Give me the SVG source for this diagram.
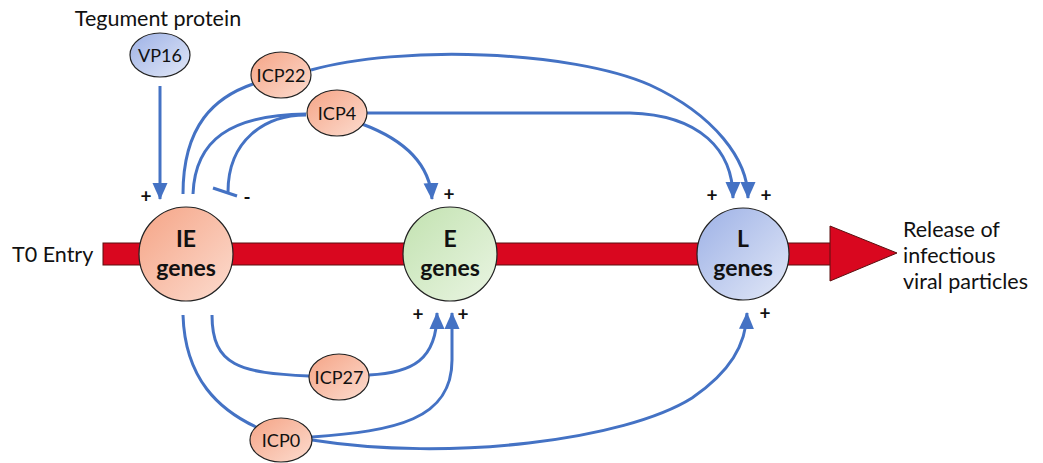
<svg xmlns="http://www.w3.org/2000/svg" width="1043" height="463" viewBox="0 0 1043 463">
<defs>
<linearGradient id="gOr" x1="0" y1="0" x2="1" y2="1"><stop offset="0" stop-color="#F5A486"/><stop offset="1" stop-color="#FCDCCF"/></linearGradient>
<linearGradient id="gGr" x1="0" y1="0" x2="1" y2="1"><stop offset="0" stop-color="#C2E2B0"/><stop offset="1" stop-color="#EAF5E3"/></linearGradient>
<linearGradient id="gBl" x1="0" y1="0" x2="1" y2="1"><stop offset="0" stop-color="#9DB1E6"/><stop offset="1" stop-color="#E2E8F7"/></linearGradient>
<marker id="arr" markerUnits="userSpaceOnUse" markerWidth="18" markerHeight="18" viewBox="0 0 18 18" refX="16" refY="9" orient="auto"><path d="M0,1.5 L17,9 L0,16.5 Z" fill="#4472C4"/></marker>
<style>
.ln{fill:none;stroke:#4472C4;stroke-width:3}
.nd{stroke:#222;stroke-width:1.2}
.t{font-family:Lato,"Open Sans",sans-serif;fill:#111}
.lb{font-size:18px;text-anchor:middle}
.gn{font-size:23px;font-weight:bold;text-anchor:middle}
.pl{font-size:19px;font-weight:bold;text-anchor:middle}
.tx{font-size:21.5px}
</style>
</defs>
<g id="timeline">
<rect x="103" y="243" width="730" height="22" fill="#D9071F" stroke="#5a1010" stroke-width="1"/>
<polygon points="830,226 897,253 830,281" fill="#D9071F" stroke="#5a1010" stroke-width="1"/>
</g>
<g id="connectors">
<path class="ln" d="M160,86 L160,199" marker-end="url(#arr)"/>
<path class="ln" d="M183,194 C183,125 215,97 253,84"/>
<path class="ln" d="M193,194 C195,140 230,115 306,114"/>
<path class="ln" d="M306,115 C265,115 228,140 228,192"/>
<path class="ln" d="M213,188 L237,196"/>
<path class="ln" d="M311,70 C400,45 570,50 650,85 C715,115 748,160 748,198" marker-end="url(#arr)"/>
<path class="ln" d="M367,113 L630,113 C700,115 733,150 733,198" marker-end="url(#arr)"/>
<path class="ln" d="M362,124 C405,140 430,165 432,199" marker-end="url(#arr)"/>
<path class="ln" d="M212,315 C212,366 240,373 309,376"/>
<path class="ln" d="M369,375 C412,373 437,360 437,313" marker-end="url(#arr)"/>
<path class="ln" d="M183,315 C185,380 220,410 256,427"/>
<path class="ln" d="M312,437 C395,431 452,420 452,360 L452,313" marker-end="url(#arr)"/>
<path class="ln" d="M312,440 C450,462 625,440 692,398 C730,372 746,345 747,313" marker-end="url(#arr)"/>
</g>
<g id="IE"><circle class="nd" cx="186" cy="254" r="47" fill="url(#gOr)"/><text class="t gn" x="186" y="247">IE</text><text class="t gn" x="186" y="276">genes</text></g>
<g id="E"><circle class="nd" cx="450" cy="254" r="47" fill="url(#gGr)"/><text class="t gn" x="450" y="247">E</text><text class="t gn" x="450" y="276">genes</text></g>
<g id="L"><circle class="nd" cx="743" cy="254" r="46" fill="url(#gBl)"/><text class="t gn" x="743" y="247">L</text><text class="t gn" x="743" y="276">genes</text></g>
<g id="VP16"><ellipse class="nd" cx="160" cy="55" rx="30" ry="22" fill="url(#gBl)"/><text class="t lb" x="160" y="61.5">VP16</text></g>
<g id="ICP22"><ellipse class="nd" cx="281" cy="75" rx="30" ry="23" fill="url(#gOr)"/><text class="t lb" x="281" y="81.5">ICP22</text></g>
<g id="ICP4"><ellipse class="nd" cx="337" cy="113" rx="30" ry="23" fill="url(#gOr)"/><text class="t lb" x="337" y="119.5">ICP4</text></g>
<g id="ICP27"><ellipse class="nd" cx="339" cy="377" rx="30" ry="23" fill="url(#gOr)"/><text class="t lb" x="339" y="383.5">ICP27</text></g>
<g id="ICP0"><ellipse class="nd" cx="281" cy="440" rx="31" ry="22" fill="url(#gOr)"/><text class="t lb" x="281" y="446.5">ICP0</text></g>
<g id="labels">
<text class="t tx" x="158" y="26" text-anchor="middle">Tegument protein</text>
<text class="t tx" x="12" y="262">T0 Entry</text>
<text class="t tx" x="903" y="237">Release of</text>
<text class="t tx" x="903" y="263">infectious</text>
<text class="t tx" x="903" y="289">viral particles</text>
<text class="t pl" x="146" y="203">+</text>
<text class="t pl" x="247" y="204">-</text>
<text class="t pl" x="449" y="201">+</text>
<text class="t pl" x="712" y="202">+</text>
<text class="t pl" x="766" y="202">+</text>
<text class="t pl" x="418" y="321">+</text>
<text class="t pl" x="463" y="321">+</text>
<text class="t pl" x="765" y="320">+</text>
</g>
</svg>
